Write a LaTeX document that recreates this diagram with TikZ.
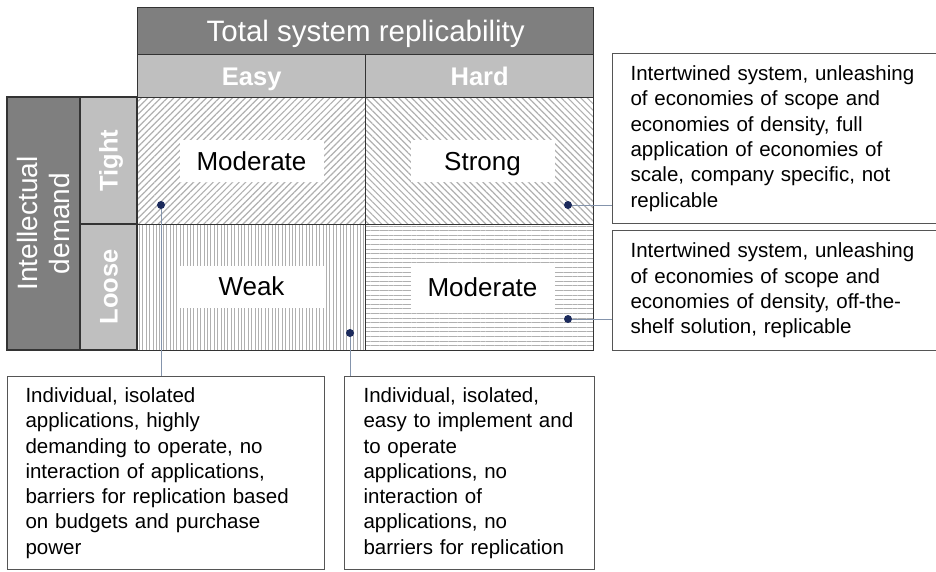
\documentclass[tikz,border=0pt]{standalone}
\usepackage{fontspec}
\setmainfont{Liberation Sans}
\usetikzlibrary{patterns.meta}
\definecolor{darkg}{HTML}{7F7F7F}
\definecolor{lightg}{HTML}{BFBFBF}
\definecolor{bdr}{HTML}{333333}
\definecolor{bdrtwo}{HTML}{555555}
\definecolor{hatch}{HTML}{B0B0B0}
\definecolor{navy}{HTML}{1B2A5C}
\definecolor{linkc}{HTML}{8494AC}
\tikzset{
  hdr/.style={draw=bdr, line width=1.4pt, fill=darkg, text=white, inner sep=0pt},
  sub/.style={draw=bdr, line width=1.4pt, fill=lightg, text=white, inner sep=0pt,
    text height=18.3pt, text depth=0pt,
    font=\bfseries\fontsize{25.5}{30}\selectfont},
  cell/.style={draw=bdr, line width=1.4pt, inner sep=0pt, anchor=north west,
    minimum width=228pt, minimum height=127pt},
  lab/.style={fill=white, inner sep=0pt, minimum width=144pt, minimum height=42pt,
    text height=18.6pt, text depth=0pt,
    font=\fontsize{26}{30}\selectfont},
  dotn/.style={circle, fill=navy, inner sep=0pt, minimum size=8pt},
  note/.style={draw=bdrtwo, line width=1.1pt, anchor=north west, align=left,
    font=\fontsize{20.5}{25.3}\selectfont},
  link/.style={draw=linkc, line width=0.9pt}
}
\begin{document}
\begin{tikzpicture}[x=1pt,y=-1pt]
\useasboundingbox (0,0) rectangle (936,571);
% headers
\node[hdr, anchor=north west, minimum width=456pt, minimum height=47pt,
  text height=21.1pt, text depth=0pt,
  font=\fontsize{29.5}{34}\selectfont] (title) at (137,7) {Total system replicability};
\node[sub, anchor=north west, minimum width=228pt, minimum height=43pt] (easy) at (137,54) {Easy};
\node[sub, anchor=north west, minimum width=228pt, minimum height=43pt] (hard) at (365,54) {Hard};
% left headers
\node[hdr, rotate=90, minimum width=253pt, minimum height=73pt, align=center,
  font=\fontsize{28}{32}\selectfont] (intel) at (43.5,223.5) {Intellectual\\demand};
\node[sub, rotate=90, minimum width=127pt, minimum height=57pt] (tight) at (108.5,160.5) {Tight};
\node[sub, rotate=90, minimum width=126pt, minimum height=57pt] (loose) at (108.5,287) {Loose};
% cells
\node[cell, pattern={Lines[angle=45,distance=4.6pt,line width=1.2pt]}, pattern color=hatch] (c11) at (137,97) {};
\node[cell, pattern={Lines[angle=-45,distance=4.6pt,line width=1.2pt]}, pattern color=hatch] (c12) at (365,97) {};
\node[cell, minimum height=126pt, pattern={Lines[angle=90,distance=3.4pt,line width=0.7pt]}, pattern color=hatch] (c21) at (137,224) {};
\node[cell, minimum height=126pt, pattern={Lines[angle=0,distance=4.6pt,line width=0.8pt]}, pattern color=hatch] (c22) at (365,224) {};
% cell labels
\node[lab] (l11) at (251.5,161) {Moderate};
\node[lab] (l12) at (482.5,161) {Strong};
\node[lab] (l21) at (251.5,286.5) {Weak};
\node[lab] (l22) at (482.5,287.5) {Moderate};
% dots
\node[dotn] (d1) at (161,205) {};
\node[dotn] (d2) at (350,333) {};
\node[dotn] (d3) at (568,205) {};
\node[dotn] (d4) at (568,319) {};
% notes
\node[note, inner xsep=18pt, text width=289pt, minimum height=170pt] (r1) at (612,53)
 {Intertwined system, unleashing\\of economies of scope and\\economies of density, full\\application of economies of\\scale, company specific, not\\replicable};
\node[note, inner xsep=18pt, text width=289pt, minimum height=120pt] (r2) at (612,230)
 {Intertwined system, unleashing\\of economies of scope and\\economies of density, off-the-\\shelf solution, replicable};
\node[note, inner xsep=18pt, text width=281pt, minimum height=193pt] (n1) at (7,376)
 {Individual, isolated\\applications, highly\\demanding to operate, no\\interaction of applications,\\barriers for replication based\\on budgets and purchase\\power};
\node[note, inner xsep=19pt, text width=212pt, minimum height=193pt] (n2) at (344,376)
 {Individual, isolated,\\easy to implement and\\to operate\\applications, no\\interaction of\\applications, no\\barriers for replication};
% connectors
\draw[link] (d1) -- (d1 |- n1.north);
\draw[link] (d2) -- (d2 |- n2.north);
\draw[link] (d3) -- (d3 -| r1.west);
\draw[link] (d4) -- (d4 -| r2.west);
\end{tikzpicture}
\end{document}
